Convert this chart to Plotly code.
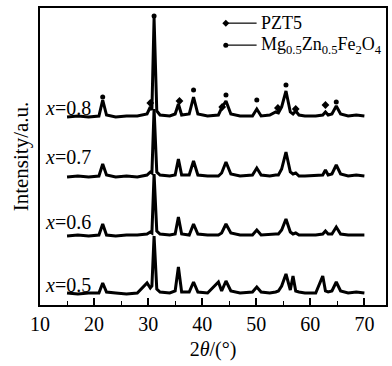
import plotly.graph_objects as go

# 2theta grid (degrees) shared by all patterns
THETA = [15, 17, 19, 20.9, 21.6, 22.3, 24, 26, 28, 29.8,
         30.4, 30.7, 31.1, 31.6, 32.2, 34, 35.0, 35.6, 36.2, 37.6,
         38.4, 39.2, 41, 43.0, 43.6, 44.4, 45.3, 47, 49.3, 50.1,
         50.9, 52.5, 53.6, 54.1, 54.7, 55.5, 56.3, 56.8, 57.3, 57.9,
         59, 61, 62.3, 62.8, 63.3, 64.0, 64.8, 65.6, 67, 68.5, 70]

# intensities (a.u.) above each pattern's own baseline
I_08 = [0, 1, 0, 1, 17, 2, 0, 1, 1, 3,
        10, 7, 99, 6, 2, 1, 3, 13, 2, 3,
        20, 3, 1, 2, 9, 16, 3, 1, 1, 8,
        1, 2, 5, 4, 10, 26, 5, 3, 6, 2,
        1, 1, 2, 5, 2, 3, 11, 3, 1, 2, 1]
I_07 = [0, 1, 0, 1, 13, 2, 0, 1, 0, 2,
        5, 4, 68, 5, 2, 1, 2, 18, 2, 2,
        16, 2, 1, 1, 4, 15, 3, 1, 2, 9,
        2, 1, 2, 2, 8, 25, 5, 3, 4, 1,
        1, 2, 2, 7, 2, 3, 12, 3, 1, 2, 1]
I_06 = [0, 1, 0, 1, 12, 1, 0, 1, 1, 2,
        4, 3, 62, 5, 2, 1, 2, 19, 2, 1,
        12, 2, 1, 1, 3, 12, 3, 1, 1, 6,
        1, 2, 2, 2, 6, 17, 4, 2, 3, 1,
        1, 1, 2, 5, 2, 2, 9, 2, 1, 1, 1]
I_05 = [1, 0, 1, 1, 11, 2, 1, 0, 1, 11,
        6, 8, 58, 5, 2, 1, 3, 27, 2, 2,
        12, 2, 1, 12, 3, 13, 3, 1, 2, 7,
        2, 1, 2, 3, 8, 20, 4, 18, 3, 2,
        1, 1, 18, 3, 2, 3, 12, 3, 1, 2, 1]

SAMPLES = ["0.8", "0.7", "0.6", "0.5"]
OFFSETS = [188, 128, 69, 11]
LABEL_Y = [197, 148, 83, 20]

# phase markers on the x=0.8 pattern
PZT_THETA = [30.4, 35.8, 43.7, 54.0, 57.3, 62.8]
PZT_Y = [202, 204, 198, 197, 196, 200]
FER_THETA = [21.6, 31.1, 38.4, 44.4, 50.1, 55.5, 64.8]
FER_Y = [208, 289, 215, 210, 205, 220, 203]

XTICKS = [10, 20, 30, 40, 50, 60, 70]

FONT = "Liberation Serif"
fig = go.Figure()

for name, inten, off in zip(SAMPLES, [I_08, I_07, I_06, I_05], OFFSETS):
    fig.add_trace(go.Scatter(
        x=THETA, y=[v + off for v in inten], mode="lines",
        line=dict(color="black", width=3), showlegend=False, name="x=" + name))

fig.add_trace(go.Scatter(x=PZT_THETA, y=PZT_Y, mode="markers",
                         marker=dict(symbol="diamond", size=6, color="black"),
                         showlegend=False, name="PZT5"))
fig.add_trace(go.Scatter(x=FER_THETA, y=FER_Y, mode="markers",
                         marker=dict(symbol="circle", size=5, color="black"),
                         showlegend=False, name="Mg0.5Zn0.5Fe2O4"))

for name, ly in zip(SAMPLES, LABEL_Y):
    fig.add_annotation(x=0.008, xref="paper", y=ly, yref="y", xanchor="left",
                       yanchor="middle", showarrow=False,
                       text="<i>x</i>=" + name,
                       font=dict(family=FONT, size=20, color="black"))

# manual legend
leg = [("PZT5", 0.949, "diamond"),
       ("Mg<sub>0.5</sub>Zn<sub>0.5</sub>Fe<sub>2</sub>O<sub>4</sub>", 0.875, "circle")]
for text, yy, sym in leg:
    fig.add_shape(type="line", xref="paper", yref="paper", x0=0.537, x1=0.626,
                  y0=yy, y1=yy, line=dict(color="black", width=1.2))
    if sym == "circle":
        fig.add_shape(type="circle", xref="paper", yref="paper", xsizemode="pixel",
                      ysizemode="pixel", xanchor=0.537, yanchor=yy,
                      x0=-2.5, x1=2.5, y0=-2.5, y1=2.5,
                      fillcolor="black", line=dict(width=0))
    else:
        fig.add_shape(type="path", xref="paper", yref="paper", xsizemode="pixel",
                      ysizemode="pixel", xanchor=0.537, yanchor=yy,
                      path="M -3.5 0 L 0 3.5 L 3.5 0 L 0 -3.5 Z",
                      fillcolor="black", line=dict(width=0))
    fig.add_annotation(x=0.632, xref="paper", y=yy, yref="paper", xanchor="left",
                       yanchor="middle", showarrow=False, text=text,
                       font=dict(family=FONT, size=18, color="black"))

fig.update_layout(
    width=392, height=366,
    margin=dict(l=40, r=4, t=8, b=61),
    plot_bgcolor="white", paper_bgcolor="white",
    font=dict(family=FONT, size=20, color="black"),
    xaxis=dict(range=[10, 74], tickvals=XTICKS, ticktext=[str(t) for t in XTICKS],
               ticks="inside", ticklen=7, tickwidth=1.5, tickcolor="black",
               minor=dict(dtick=5, tick0=10, ticks="inside", ticklen=4,
                          tickwidth=1.2, tickcolor="black"),
               showline=True, linecolor="black", linewidth=1.5, mirror=True,
               showgrid=False, zeroline=False,
               tickfont=dict(family=FONT, size=20),
               title=dict(text="2<i>θ</i>/(°)", font=dict(family=FONT, size=20),
                          standoff=8)),
    yaxis=dict(range=[0, 297], showticklabels=False, ticks="",
               showline=True, linecolor="black", linewidth=1.5, mirror=True,
               showgrid=False, zeroline=False,
               title=dict(text="Intensity/a.u.", font=dict(family=FONT, size=21),
                          standoff=4)),
)

fig.write_html("out.html")
